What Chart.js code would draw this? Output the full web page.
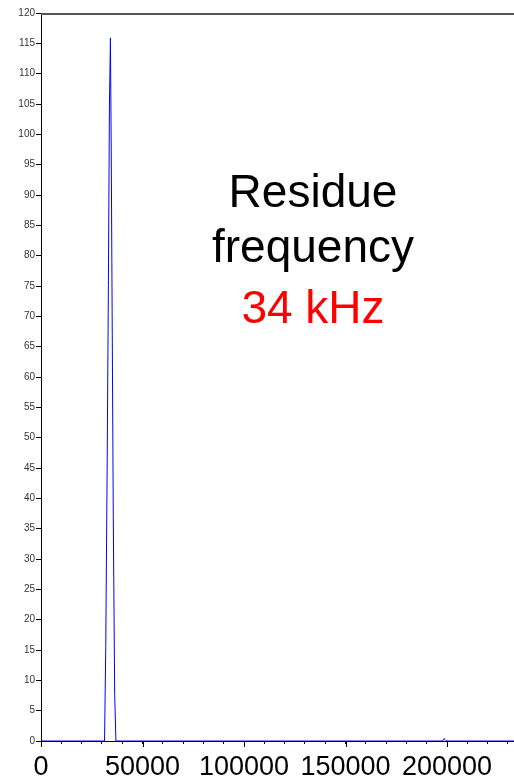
<!DOCTYPE html>
<html>
<head>
<meta charset="utf-8">
<script src="https://cdn.jsdelivr.net/npm/chart.js@4/dist/chart.umd.min.js"></script>
<style>
  html, body { margin: 0; padding: 0; background: #fff; }
</style>
</head>
<body>
<canvas id="spectrum" width="514" height="780"></canvas>
<script>
// spectrum samples (Hz, amplitude)
const freqs = [0, 31300, 31900, 32600, 33200, 33700, 34200, 34600, 35100, 35600, 36300, 36900, 197800, 198500, 199200, 199800, 233000];
const amps  = [0, 0, 15.4, 45.8, 75.3, 104.5, 115.9, 97.1, 67.1, 37.2, 7.6, 0, 0, 0.4, 0.2, 0, 0];
// x ticks: every 10000, labelled every 50000
const xTicks = [0, 10000, 20000, 30000, 40000, 50000, 60000, 70000, 80000, 90000, 100000, 110000,
                120000, 130000, 140000, 150000, 160000, 170000, 180000, 190000, 200000, 210000, 220000, 230000];
const xLabels = [0, 50000, 100000, 150000, 200000];
const xMax = 233000;
const yMax = 120;
const noteLines = ["Residue", "frequency", "34 kHz"];
const noteColors = ["#000000", "#000000", "#ff0000"];

const font = "'Liberation Sans', Arial, sans-serif";

// longer ticks under the labelled values, frame line on top, and the note
const extras = {
  id: "extras",
  afterDraw(chart) {
    const ctx = chart.ctx;
    const area = chart.chartArea;
    const xs = chart.scales.x;
    ctx.save();
    ctx.strokeStyle = "#000";
    ctx.lineWidth = 1;
    xLabels.forEach(v => {
      const px = Math.round(xs.getPixelForValue(v)) + 0.5;
      ctx.beginPath();
      ctx.moveTo(px, area.bottom);
      ctx.lineTo(px, area.bottom + 6);
      ctx.stroke();
    });
    // top frame
    ctx.strokeStyle = "#555";
    ctx.lineWidth = 2;
    ctx.beginPath();
    ctx.moveTo(area.left, area.top + 1);
    ctx.lineTo(area.right, area.top + 1);
    ctx.stroke();

    // note
    ctx.font = "46px " + font;
    ctx.textAlign = "center";
    ctx.textBaseline = "alphabetic";
    const cx = 313;
    const baselines = [207, 262, 323];
    noteLines.forEach((s, i) => {
      ctx.fillStyle = noteColors[i];
      ctx.fillText(s, cx, baselines[i]);
    });
    ctx.restore();
  }
};

const chart = new Chart(document.getElementById("spectrum").getContext("2d"), {
  type: "line",
  data: {
    datasets: [{
      data: freqs.map((f, i) => ({ x: f, y: amps[i] })),
      borderColor: "#0000ff",
      borderWidth: 1,
      pointRadius: 0,
      tension: 0,
      fill: false
    }]
  },
  options: {
    responsive: false,
    animation: false,
    events: [],
    layout: { padding: { top: 13, right: 0, left: 0, bottom: 0 } },
    plugins: { legend: { display: false }, tooltip: { enabled: false } },
    scales: {
      x: {
        type: "linear",
        min: 0,
        max: xMax,
        z: 1,
        afterBuildTicks(s) { s.ticks = xTicks.map(v => ({ value: v })); },
        afterFit(s) { s.height = 39; s.paddingLeft = 0; s.paddingRight = 0; },
        border: { color: "#000", width: 1 },
        grid: { drawOnChartArea: false, drawTicks: true, tickLength: 3, color: "#000" },
        ticks: {
          autoSkip: false,
          maxRotation: 0,
          padding: 7,
          color: "#000",
          font: { family: font, size: 27 },
          callback: v => (xLabels.includes(v) ? String(v) : "")
        }
      },
      y: {
        min: 0,
        max: yMax,
        z: 1,
        afterFit(s) { s.width = 41; },
        border: { color: "#000", width: 1 },
        grid: { drawOnChartArea: false, drawTicks: true, tickLength: 5, color: "#000" },
        ticks: {
          stepSize: 5,
          autoSkip: false,
          padding: 1,
          color: "#333",
          font: { family: font, size: 10 }
        }
      }
    }
  },
  plugins: [extras]
});
</script>
</body>
</html>
